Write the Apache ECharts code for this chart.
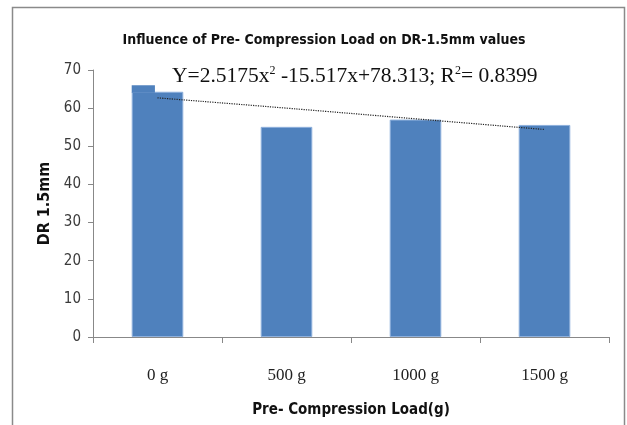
<!DOCTYPE html>
<html>
<head>
<meta charset="utf-8">
<script src="https://cdn.jsdelivr.net/npm/echarts@6/dist/echarts.min.js"></script>
<style>html,body{margin:0;padding:0;background:#fff}#c{width:627px;height:425px}</style>
</head>
<body>
<div id="c"></div>
<script>
const categories = ['0 g', '500 g', '1000 g', '1500 g'];
const drValues = [64.3, 55.1, 57.0, 55.6];
const notchValues = [66.0, null, null, null];
const trendValues = [62.7, 60.0, 57.2, 54.4];
const yTicks = [0, 10, 20, 30, 40, 50, 60, 70];

const SANS = "'Liberation Sans Narrow','DejaVu Sans Condensed','Liberation Sans',sans-serif";
const SERIF = "'Liberation Serif','DejaVu Serif',serif";

const chart = echarts.init(document.getElementById('c'), null, {renderer: 'canvas'});
chart.setOption({
  animation: false,
  backgroundColor: '#fff',
  title: {
    text: 'Influence of Pre- Compression Load on DR-1.5mm values',
    left: 319, top: 28, textAlign: 'center',
    textStyle: {fontFamily: SANS, fontWeight: 'bold', fontSize: 14, color: '#111'}
  },
  graphic: [
    {type: 'rect', shape: {x: 12.5, y: 7.5, width: 612, height: 430}, style: {fill: 'none', stroke: '#8a8a8a', lineWidth: 1.5}, silent: true},
    {type: 'text', left: 172, top: 65, style: {
      text: '{n|Y=2.5175x}{s|2}{n| -15.517x+78.313; R}{s|2}{n|= 0.8399}',
      rich: {
        n: {fontFamily: SERIF, fontSize: 21.5, fill: '#111', verticalAlign: 'bottom'},
        s: {fontFamily: SERIF, fontSize: 12, fill: '#111', verticalAlign: 'top', padding: [0,0,10,0]}
      }
    }}
  ],
  grid: {left: 93, right: 18, top: 70, bottom: 88},
  xAxis: {
    type: 'category', data: categories, boundaryGap: true,
    axisLine: {lineStyle: {color: '#888', width: 1}},
    axisTick: {show: true, length: 6, lineStyle: {color: '#888'}},
    axisLabel: {fontFamily: SERIF, fontSize: 17, color: '#222', margin: 30},
    name: 'Pre- Compression Load(g)', nameLocation: 'middle', nameGap: 66,
    nameTextStyle: {fontFamily: SANS, fontWeight: 'bold', fontSize: 15, color: '#111'}
  },
  yAxis: {
    type: 'value', min: 0, max: 70, interval: 10,
    axisLine: {show: true, lineStyle: {color: '#888', width: 1}},
    axisTick: {show: true, length: 5, lineStyle: {color: '#888'}},
    splitLine: {show: false},
    axisLabel: {fontFamily: SANS, fontSize: 15, color: '#3a3a3a', margin: 12,
      formatter: v => yTicks.includes(v) ? String(v) : ''},
    name: 'DR 1.5mm', nameLocation: 'middle', nameGap: 37, nameRotate: 90,
    nameTextStyle: {fontFamily: SANS, fontWeight: 'bold', fontSize: 16, color: '#111'}
  },
  series: [
    {
      type: 'bar', data: drValues, barWidth: '40%',
      itemStyle: {color: '#4F81BD', borderColor: '#8eb0dc', borderWidth: 1}, z: 2
    },
    {
      type: 'custom', z: 3,
      data: notchValues.map((v, i) => [i, v]).filter(d => d[1] != null),
      renderItem: function (params, api) {
        const top = api.coord([api.value(0), api.value(1)]);
        const base = api.coord([api.value(0), drValues[api.value(0)]]);
        const band = api.size([1, 0])[0];
        const bw = band * 0.4;
        const x0 = top[0] - bw / 2;
        return {type: 'rect', shape: {x: x0, y: top[1], width: band * 0.18, height: base[1] - top[1] + 1},
          style: {fill: '#4F81BD'}};
      }
    },
    {
      type: 'line', data: trendValues, symbol: 'none', z: 4, smooth: true,
      lineStyle: {type: 'dotted', color: '#222', width: 1.2}
    }
  ]
});
</script>
</body>
</html>
